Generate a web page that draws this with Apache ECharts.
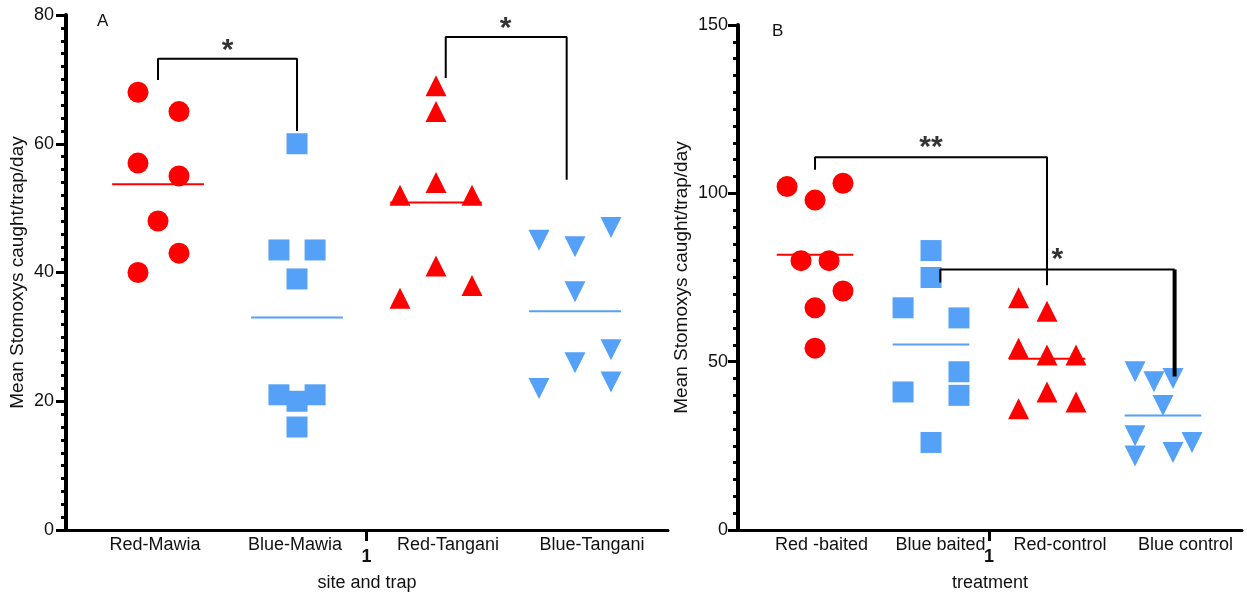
<!DOCTYPE html>
<html>
<head>
<meta charset="utf-8">
<script src="https://cdn.jsdelivr.net/npm/echarts@6/dist/echarts.min.js"></script>
<style>
  html, body { margin: 0; padding: 0; background: #fff; }
  #chart { width: 1247px; height: 597px; }
</style>
</head>
<body>
<div id="chart"></div>
<script>
// categories
const catA = ['Red-Mawia', 'Blue-Mawia', 'Red-Tangani', 'Blue-Tangani'];
const catB = ['Red -baited', 'Blue baited', 'Red-control', 'Blue control'];

// values (mean Stomoxys caught/trap/day)
const redMawia = [68, 65, 57, 55, 48, 43, 40];
const blueMawia = [60, 43.5, 43.5, 39, 21, 20, 21, 16];
const redTangani = [69, 65, 54, 52, 52, 41, 38, 36];
const blueTangani = [45, 44, 47, 37, 28, 26, 23, 22];
const redBaited = [102, 98, 103, 80, 80, 71, 66, 54];
const blueBaited = [83, 75, 66, 63, 47, 41, 40, 26];
const redControl = [69, 65, 54, 52, 52, 41, 38, 36];
const blueControl = [47, 44, 45, 37, 28, 26, 23, 22];

// horizontal scatter offsets (axis units)
const jitRM = [-0.144, 0.151, -0.144, 0.151, 0, 0.151, -0.144];
const jitBM = [0, -0.13, 0.13, 0, -0.13, 0, 0.13, 0];
const jitRT = [0, 0, 0, -0.259, 0.259, 0, 0.259, -0.259];
const jitBT = [-0.259, 0, 0.259, 0, 0.259, 0, 0.259, -0.259];
const jitRB = [-0.241, 0, 0.241, -0.121, 0.121, 0.241, 0, 0];
const jitBB = [0, 0, -0.241, 0.241, 0.241, -0.241, 0.241, 0];
const jitRC = [-0.245, 0, -0.245, 0, 0.25, 0, 0.25, -0.245];
const jitBC = [-0.241, -0.078, 0.086, 0, -0.241, 0.25, 0.086, -0.241];

// where the category labels sit on the x axis
const labelPosA = [0.978, 1.986, 3.086, 4.122];
const labelPosB = [1.056, 2.082, 3.112, 4.194];

// significance brackets
const bracketA1 = [[1, 69.9], [1, 73.2], [2, 73.2], [2, 62.0]];
const bracketA2 = [[3.07, 70.2], [3.07, 76.6], [3.94, 76.6], [3.94, 54.4]];
const bracketB1 = [[1, 107], [1, 110.7], [3, 110.7], [3, 72.7]];
const bracketB2 = [[2.08, 73.5], [2.08, 77.4], [4.1, 77.4]];
const bracketB2leg = [[4.1, 77.4], [4.1, 45.6]];
const starsA = [{ value: [1.5, 75.3], name: '*' }, { value: [3.5, 78.6], name: '*' }];
const starsB = [{ value: [2.0, 115], name: '**' }, { value: [3.09, 81.8], name: '*' }];

const RED = '#FF0000';
const BLUE = '#55A1F7';
const TXT = '#111';
const FONT = "'Liberation Sans', Arial, sans-serif";
const MEAN_HALF = 0.33;

const mean = (a) => a.reduce((s, v) => s + v, 0) / a.length;

function pts(vals, jit, center) {
  return vals.map((v, i) => [center + jit[i], v]);
}

function dots(vals, jit, center, symbol, color, gi, rotate) {
  return {
    type: 'scatter',
    xAxisIndex: gi,
    yAxisIndex: gi,
    data: pts(vals, jit, center),
    symbol: symbol,
    symbolSize: 21,
    symbolRotate: rotate || 0,
    itemStyle: { color: color, opacity: 1 },
    z: 3
  };
}

function meanLine(vals, center, color, gi) {
  const m = mean(vals);
  return {
    type: 'line',
    xAxisIndex: gi,
    yAxisIndex: gi,
    data: [[center - MEAN_HALF, m], [center + MEAN_HALF, m]],
    symbol: 'none',
    lineStyle: { color: color, width: 2 },
    z: 4
  };
}

function bracket(data, gi, width) {
  return {
    type: 'line',
    xAxisIndex: gi,
    yAxisIndex: gi,
    data: data,
    symbol: 'none',
    lineStyle: { color: '#000', width: width || 2 },
    z: 5
  };
}

function stars(data, gi) {
  return {
    type: 'scatter',
    xAxisIndex: gi,
    yAxisIndex: gi,
    data: data,
    symbolSize: 1,
    itemStyle: { color: 'rgba(0,0,0,0)' },
    label: {
      show: true,
      position: 'inside',
      offset: [0, 5],
      formatter: (p) => p.name,
      color: '#000',
      fontSize: 30,
      fontWeight: 'bold',
      fontFamily: FONT
    },
    z: 6
  };
}

function xAxisDef(gi, min, max, cats, pos, name) {
  return {
    type: 'value',
    gridIndex: gi,
    min: min,
    max: max,
    name: name,
    nameLocation: 'middle',
    nameGap: 44,
    nameTextStyle: { fontSize: 18, color: TXT, fontFamily: FONT },
    splitLine: { show: false },
    axisLine: { lineStyle: { color: '#000', width: 3 } },
    axisTick: {
      show: true,
      customValues: [2.5],
      length: 11,
      lineStyle: { color: '#000', width: 3 }
    },
    axisLabel: {
      customValues: pos.concat([2.5]),
      margin: 6,
      fontSize: 18,
      color: TXT,
      fontFamily: FONT,
      formatter: (v) => {
        const i = pos.indexOf(v);
        return i >= 0 ? cats[i] : '{one|1}';
      },
      rich: {
        one: { fontSize: 18, fontWeight: 'bold', color: TXT, fontFamily: FONT, padding: [12, 0, 0, 0] }
      }
    }
  };
}

function yAxisDef(gi, max, interval, margin, nameGap) {
  return {
    type: 'value',
    gridIndex: gi,
    min: 0,
    max: max,
    interval: interval,
    name: 'Mean Stomoxys caught/trap/day',
    nameLocation: 'middle',
    nameGap: nameGap,
    nameTextStyle: { fontSize: 19, color: TXT, fontFamily: FONT },
    splitLine: { show: false },
    axisLine: { show: true, lineStyle: { color: '#000', width: 4 } },
    axisTick: { show: true, length: 10, lineStyle: { color: '#000', width: 3 } },
    minorTick: { show: true, splitNumber: 10, length: 5, lineStyle: { color: '#000', width: 3 } },
    axisLabel: { margin: margin, fontSize: 18, color: TXT, fontFamily: FONT }
  };
}

const chart = echarts.init(document.getElementById('chart'));

const option = {
  animation: false,
  backgroundColor: '#fff',
  grid: [
    { left: 66, right: 579, top: 15, bottom: 66 },
    { left: 738, right: 5, top: 25, bottom: 66 }
  ],
  xAxis: [
    xAxisDef(0, 0.338, 4.669, catA, labelPosA, 'site and trap'),
    xAxisDef(1, 0.336, 4.681, catB, labelPosB, 'treatment')
  ],
  yAxis: [
    yAxisDef(0, 80, 20, 12, 39),
    yAxisDef(1, 150, 50, 10, 47)
  ],
  graphic: [
    { type: 'text', left: 97, top: 13, style: { text: 'A', fontSize: 17, fill: TXT, fontFamily: FONT } },
    { type: 'text', left: 772, top: 23, style: { text: 'B', fontSize: 17, fill: TXT, fontFamily: FONT } }
  ],
  series: [
    dots(redMawia, jitRM, 1, 'circle', RED, 0),
    dots(blueMawia, jitBM, 2, 'rect', BLUE, 0),
    dots(redTangani, jitRT, 3, 'triangle', RED, 0),
    dots(blueTangani, jitBT, 4, 'triangle', BLUE, 0, 180),
    meanLine(redMawia, 1, RED, 0),
    meanLine(blueMawia, 2, BLUE, 0),
    meanLine(redTangani, 3, RED, 0),
    meanLine(blueTangani, 4, BLUE, 0),
    bracket(bracketA1, 0),
    bracket(bracketA2, 0),
    stars(starsA, 0),

    dots(redBaited, jitRB, 1, 'circle', RED, 1),
    dots(blueBaited, jitBB, 2, 'rect', BLUE, 1),
    dots(redControl, jitRC, 3, 'triangle', RED, 1),
    dots(blueControl, jitBC, 4, 'triangle', BLUE, 1, 180),
    meanLine(redBaited, 1, RED, 1),
    meanLine(blueBaited, 2, BLUE, 1),
    meanLine(redControl, 3, RED, 1),
    meanLine(blueControl, 4, BLUE, 1),
    bracket(bracketB1, 1),
    bracket(bracketB2, 1),
    bracket(bracketB2leg, 1, 4),
    stars(starsB, 1)
  ]
};

chart.setOption(option);
</script>
</body>
</html>
